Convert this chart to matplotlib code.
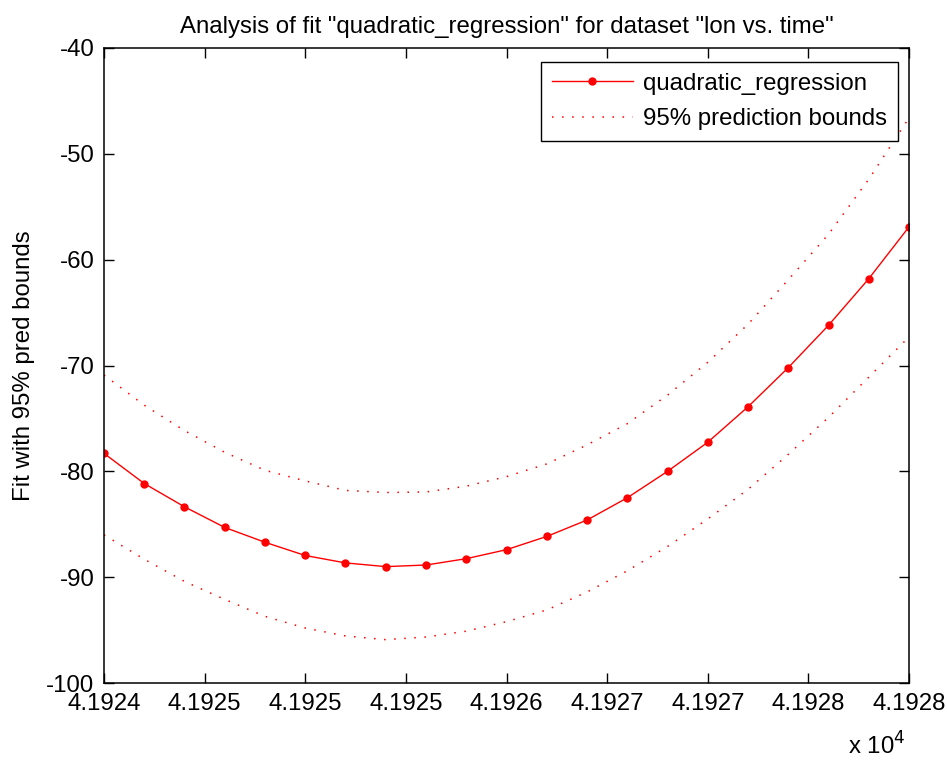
import matplotlib
matplotlib.use("Agg")
import matplotlib.pyplot as plt

# time axis (days), 21 evaluation points of the fit
time_days = [41924.0, 41924.2, 41924.4, 41924.6, 41924.8, 41925.0, 41925.2,
             41925.4, 41925.6, 41925.8, 41926.0, 41926.2, 41926.4, 41926.6,
             41926.8, 41927.0, 41927.2, 41927.4, 41927.6, 41927.8, 41928.0]

fit_values = [-78.3, -81.15, -83.35, -85.3, -86.7, -87.95, -88.65, -89.0,
              -88.85, -88.25, -87.4, -86.15, -84.6, -82.5, -80.0, -77.25,
              -73.9, -70.2, -66.2, -61.8, -56.9]

upper_bound = [-70.9, -73.75, -76.15, -78.2, -79.9, -80.9, -81.8, -82.0,
               -81.95, -81.4, -80.5, -79.3, -77.5, -75.5, -72.8, -69.7,
               -66.1, -61.9, -57.6, -52.4, -46.6]

lower_bound = [-86.0, -88.3, -90.4, -92.1, -93.7, -94.8, -95.55, -95.9,
               -95.65, -95.1, -94.2, -93.1, -91.4, -89.4, -87.1, -84.5,
               -81.7, -78.4, -74.9, -71.1, -67.3]

xtick_values = [41924.0, 41924.5, 41925.0, 41925.5, 41926.0, 41926.5,
                41927.0, 41927.5, 41928.0]
xtick_labels = ["4.1924", "4.1925", "4.1925", "4.1925", "4.1926", "4.1927",
                "4.1927", "4.1928", "4.1928"]
ytick_values = [-100, -90, -80, -70, -60, -50, -40]

plt.rcParams["font.family"] = ["Liberation Sans", "DejaVu Sans"]
plt.rcParams["axes.unicode_minus"] = False
fs = 17.3

fig = plt.figure(figsize=(9.47, 7.63), dpi=100)
ax = fig.add_axes([0.1098, 0.1048, 0.8501, 0.8323])

ax.plot(time_days, fit_values, color="red", lw=1.0, marker="o",
        markersize=5, label="quadratic_regression")
ax.plot(time_days, upper_bound, color="red", lw=1.1,
        linestyle=(0, (1, 5.6)), label="95% prediction bounds")
ax.plot(time_days, lower_bound, color="red", lw=1.1,
        linestyle=(0, (1, 5.6)))

ax.set_xlim(time_days[0], time_days[-1])
ax.set_ylim(-100, -40)
ax.set_xticks(xtick_values)
ax.set_xticklabels(xtick_labels)
ax.set_yticks(ytick_values)
ax.tick_params(direction="in", length=7, width=1, top=True, right=True,
               labelsize=fs, colors="black")
ax.tick_params(axis="x", pad=7)
ax.tick_params(axis="y", pad=7)
for sp in ax.spines.values():
    sp.set_linewidth(1.1)

ax.set_title('Analysis of fit "quadratic_regression" for dataset "lon vs. time"',
             fontsize=fs, pad=11)
ax.set_ylabel("Fit with 95% pred bounds", fontsize=fs, labelpad=8)
ax.text(0.995, -0.113, r"x 10$^{4}$", transform=ax.transAxes, ha="right",
        va="baseline", fontsize=fs)

leg = ax.legend(loc="upper right", bbox_to_anchor=(0.986, 0.978),
                borderaxespad=0, fontsize=fs, fancybox=False, framealpha=1,
                edgecolor="black", handlelength=3.4, handletextpad=0.4,
                borderpad=0.45, labelspacing=0.55)
leg.get_frame().set_linewidth(1.0)

fig.savefig("out.png", dpi=100)
